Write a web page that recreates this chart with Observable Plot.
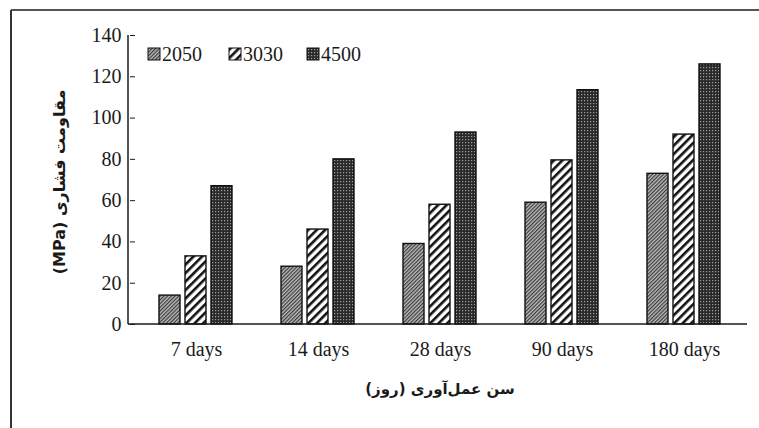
<!DOCTYPE html>
<html>
<head>
<meta charset="utf-8">
<script src="https://cdn.jsdelivr.net/npm/d3@7"></script>
<script src="https://cdn.jsdelivr.net/npm/@observablehq/plot@0.6"></script>
<style>
  html, body { margin: 0; padding: 0; background: #fff; }
  #chart { width: 759px; height: 428px; position: relative; overflow: hidden; }
</style>
</head>
<body>
<div id="chart"></div>
<script>
// ---- data ----
const days = ["7 days", "14 days", "28 days", "90 days", "180 days"];
const seriesNames = ["2050", "3030", "4500"];
const values2050 = [14, 28, 39, 59, 73];
const values3030 = [33, 46, 58, 79.5, 92];
const values4500 = [67, 80, 93, 113.5, 126];
const yTicks = [0, 20, 40, 60, 80, 100, 120, 140];
const yTitle = "مقاومت فشاری (MPa)";
const xTitle = "سن عمل‌آوری (روز)";
const patternIds = ["p2050", "p3030", "p4500"];

const seriesValues = [values2050, values3030, values4500];
const data = [];
days.forEach((d, i) => {
  seriesNames.forEach((s, j) => data.push({day: d, series: s, value: seriesValues[j][i]}));
});

const serif = "'Liberation Serif', 'Times New Roman', serif";

const plot = Plot.plot({
  width: 759,
  height: 428,
  marginLeft: 128,
  marginRight: 8,
  marginTop: 35,
  marginBottom: 104,
  style: {background: "#fff", fontFamily: serif, fontSize: "20px", color: "#1a1a1a", overflow: "visible"},
  fx: {domain: days, paddingInner: 0, paddingOuter: 0.037, label: null},
  x: {domain: seriesNames, paddingInner: 0.18, paddingOuter: 0.85, axis: null},
  y: {domain: [0, 140], ticks: yTicks, label: null},
  color: {domain: seriesNames, range: patternIds.map(id => `url(#${id})`)},
  marks: [
    Plot.axisY({ticks: yTicks, tickSize: 5, tickPadding: 9, fontSize: 20, label: null, stroke: "#1a1a1a"}),
    Plot.axisFx({anchor: "bottom", tickSize: 0, tickPadding: 17, fontSize: 20, label: null}),
    Plot.barY(data, {fx: "day", x: "series", y: "value", fill: "series", stroke: "#111", strokeWidth: 1.4})
  ]
});

document.getElementById("chart").appendChild(plot);

// pattern definitions
const svg = d3.select(plot);
const defs = svg.insert("defs", ":first-child");

// 2050: fine dense diagonal hatch on gray
const p1 = defs.append("pattern").attr("id", "p2050").attr("patternUnits", "userSpaceOnUse")
  .attr("width", 2.6).attr("height", 2.6).attr("patternTransform", "rotate(-45)");
p1.append("rect").attr("width", 2.6).attr("height", 2.6).attr("fill", "#bcbcbc");
p1.append("rect").attr("width", 2.6).attr("height", 1.2).attr("fill", "#3a3a3a");

// 3030: wide black diagonal stripes on white
const p2 = defs.append("pattern").attr("id", "p3030").attr("patternUnits", "userSpaceOnUse")
  .attr("width", 6).attr("height", 6).attr("patternTransform", "rotate(45)");
p2.append("rect").attr("width", 6).attr("height", 6).attr("fill", "#fff");
p2.append("rect").attr("width", 2.6).attr("height", 6).attr("fill", "#111");

// 4500: dark with small light dots
const p3 = defs.append("pattern").attr("id", "p4500").attr("patternUnits", "userSpaceOnUse")
  .attr("width", 3).attr("height", 3);
p3.append("rect").attr("width", 3).attr("height", 3).attr("fill", "#2a2a2a");
p3.append("rect").attr("x", 1).attr("y", 1).attr("width", 1.2).attr("height", 1.2).attr("fill", "#a0a0a0");

// axis baseline and y axis line using plot scales
const yS = plot.scale("y");
const y0 = yS.apply(0), yTop = yS.apply(140);
const g = svg.append("g");
g.append("line").attr("x1", 128).attr("x2", 747).attr("y1", y0).attr("y2", y0)
  .attr("stroke", "#1a1a1a").attr("stroke-width", 1.5);
g.append("line").attr("x1", 128).attr("x2", 128).attr("y1", yTop).attr("y2", y0)
  .attr("stroke", "#1a1a1a").attr("stroke-width", 1.5);

// outer frame lines (top and left)
g.append("line").attr("x1", 11).attr("x2", 759).attr("y1", 10).attr("y2", 10)
  .attr("stroke", "#555").attr("stroke-width", 2);
g.append("line").attr("x1", 11).attr("x2", 11).attr("y1", 10).attr("y2", 428)
  .attr("stroke", "#333").attr("stroke-width", 2);

// titles
g.append("text").attr("x", 440).attr("y", 389)
  .attr("text-anchor", "middle").attr("dominant-baseline", "middle")
  .attr("font-family", "'DejaVu Sans', sans-serif").attr("font-weight", "bold")
  .attr("font-size", 15).attr("fill", "#1a1a1a").attr("direction", "rtl")
  .text(xTitle);
g.append("text").attr("transform", "translate(60,182) rotate(-90)")
  .attr("text-anchor", "middle").attr("dominant-baseline", "middle")
  .attr("font-family", "'DejaVu Sans', sans-serif").attr("font-weight", "bold")
  .attr("font-size", 16).attr("fill", "#1a1a1a").attr("direction", "rtl")
  .text(yTitle);

// legend
const legendX = [148, 229, 307];
seriesNames.forEach((s, i) => {
  const lg = g.append("g").attr("transform", `translate(${legendX[i]},48)`);
  lg.append("rect").attr("width", 12).attr("height", 12).attr("fill", `url(#${patternIds[i]})`)
    .attr("stroke", "#111").attr("stroke-width", 1);
  lg.append("text").attr("x", 14).attr("y", 13).attr("text-anchor", "start")
    .attr("font-family", serif).attr("font-size", 20).attr("fill", "#1a1a1a").text(s);
});
</script>
</body>
</html>
